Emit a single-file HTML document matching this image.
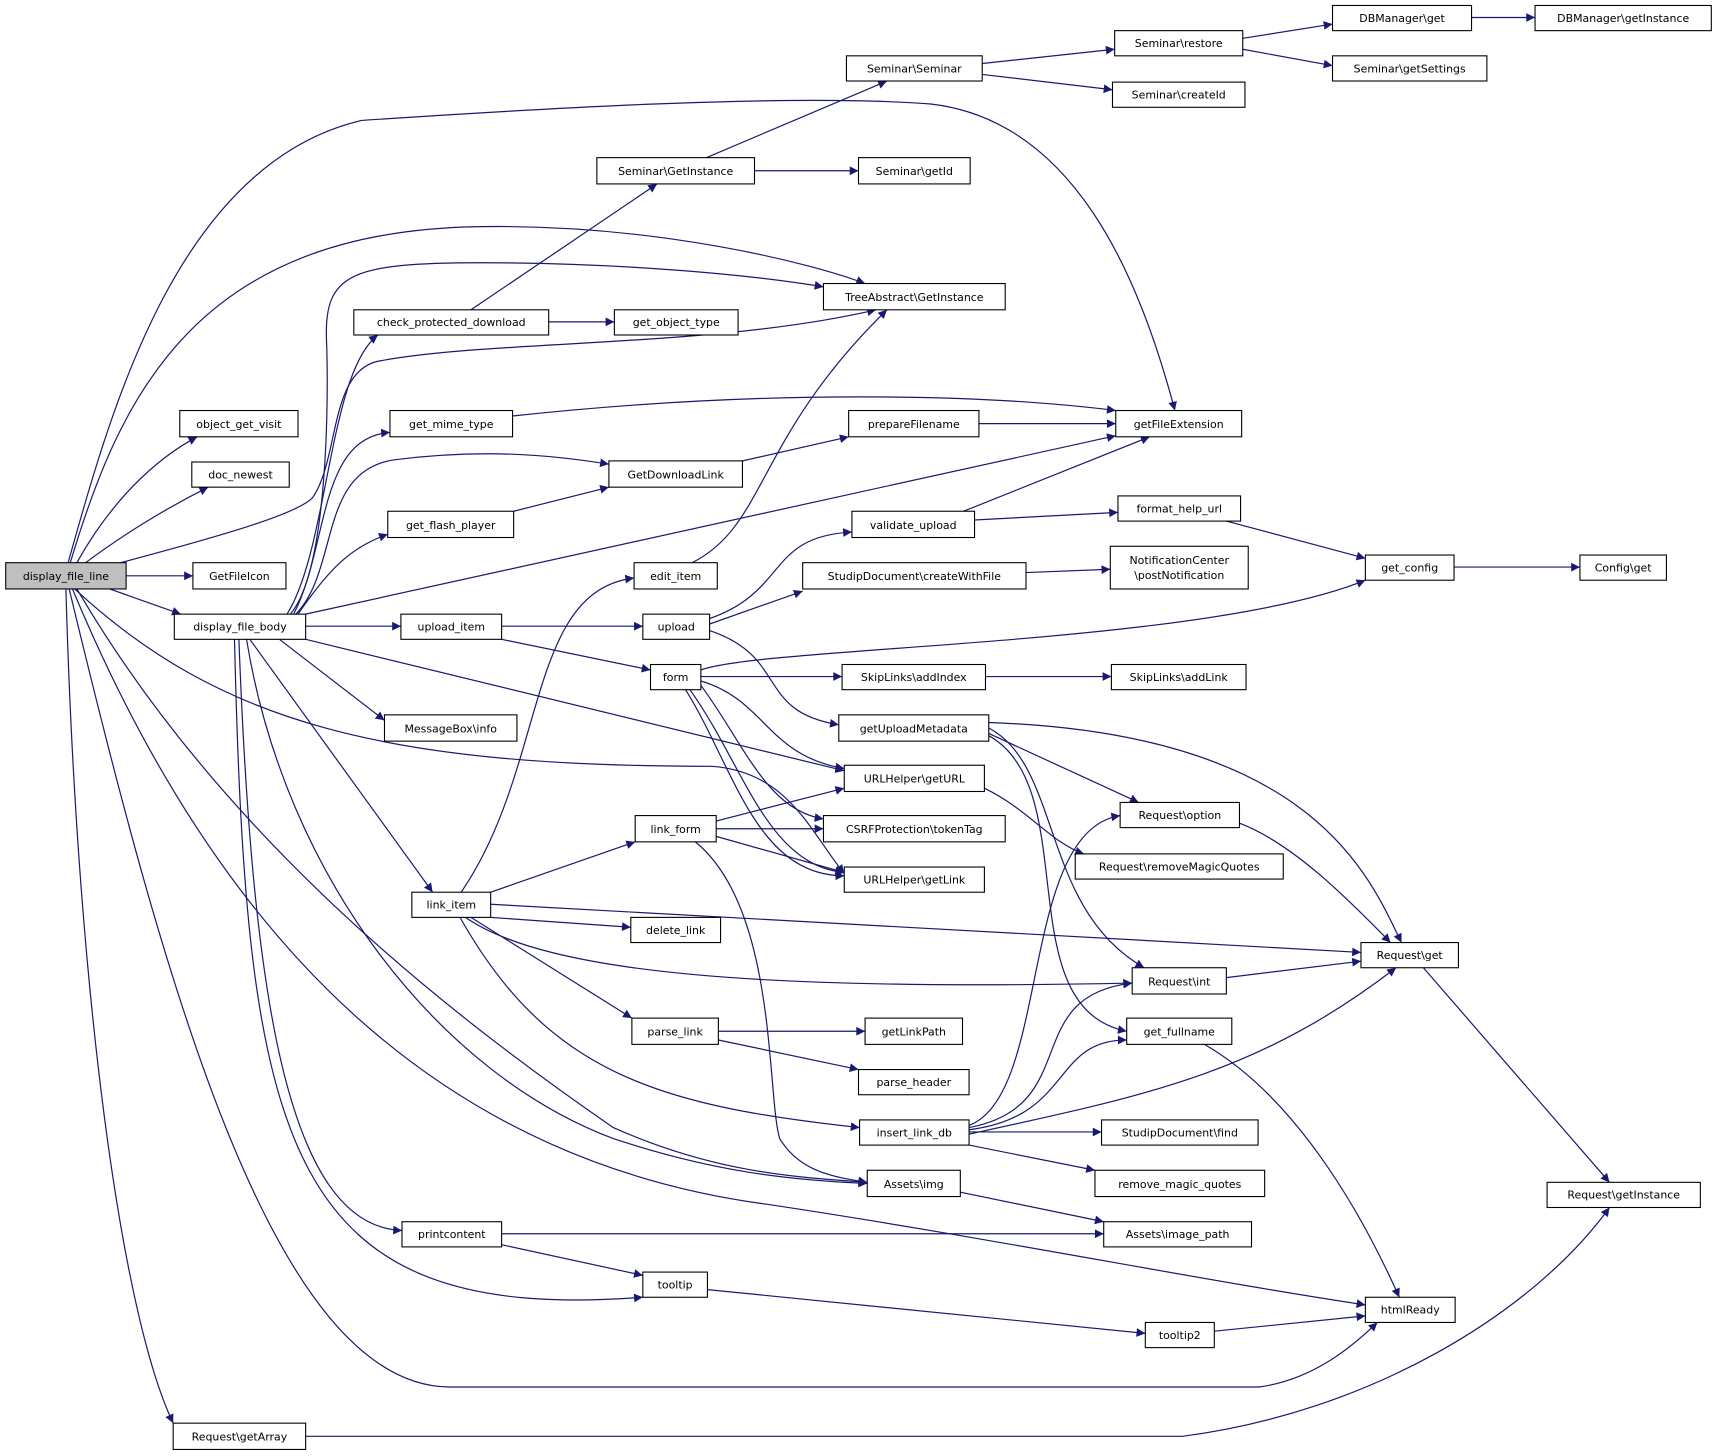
<!DOCTYPE html>
<html><head><meta charset="utf-8"><style>
html,body{margin:0;padding:0;background:#fff;}
svg{display:block;}
text{font-family:"DejaVu Sans","Liberation Sans",sans-serif;font-size:10px;fill:#000;text-anchor:middle;}
.n{fill:#fff;stroke:#000;stroke-width:1;}
.e{fill:none;stroke:#191970;stroke-width:1.1;marker-end:url(#a);}
</style></head><body>
<svg width="1717" height="1456" viewBox="0 0 1568 1330" xmlns="http://www.w3.org/2000/svg">
<defs><marker id="a" viewBox="0 0 10 10" refX="10" refY="5" markerWidth="10" markerHeight="8" markerUnits="userSpaceOnUse" orient="auto"><path d="M0,0L10,5L0,10z" fill="#191970"/></marker></defs>
<g>
<!-- edges -->
<path class="e" d="M62,514 C100,380 160,150 330,110 C480,100 720,85 850,95 C980,110 1040,250 1073,375"/>
<path class="e" d="M64,514 C110,360 180,210 440,207 C600,205 740,240 790,259"/>
<path class="e" d="M70,514 C100,460 140,420 180,399"/>
<path class="e" d="M78,514 C110,490 150,465 190,445"/>
<path class="e" d="M110,514 C200,490 270,470 285,455 C310,420 300,340 345,330 C450,310 650,318 800,283"/>
<path class="e" d="M115,526 L176,526"/>
<path class="e" d="M100,538 L165,561"/>
<path class="e" d="M68,538 C200,660 350,700 650,700 C720,705 740,760 771,798"/>
<path class="e" d="M70,538 C200,760 400,920 560,1030 C650,1070 720,1075 792,1080"/>
<path class="e" d="M66,538 C200,860 400,1060 700,1100 C900,1130 1100,1170 1247,1192"/>
<path class="e" d="M63,538 C150,900 250,1265 410,1267 L1150,1267 C1200,1260 1235,1230 1258,1208"/>
<path class="e" d="M60,538 C70,900 110,1200 158,1300"/>
<path class="e" d="M262,561 C300,500 300,340 345,306"/>
<path class="e" d="M265,561 C300,520 300,360 298,310 C296,250 320,240 440,240 C560,240 680,250 752,262"/>
<path class="e" d="M268,561 C300,500 290,400 356,395"/>
<path class="e" d="M270,561 C310,520 290,430 360,420 C440,410 500,415 556,424"/>
<path class="e" d="M272,561 C300,520 320,500 354,488"/>
<path class="e" d="M279,561 L1019,398"/>
<path class="e" d="M279,572 L366,572"/>
<path class="e" d="M255,584 L351,658"/>
<path class="e" d="M279,584 L771,704"/>
<path class="e" d="M228,584 L395,815"/>
<path class="e" d="M225,584 C260,800 400,980 560,1040 C650,1070 720,1078 792,1081"/>
<path class="e" d="M218,584 C230,900 260,1120 367,1124"/>
<path class="e" d="M214,584 C225,1050 260,1210 587,1185"/>
<path class="e" d="M430,283 L600,168"/>
<path class="e" d="M501,294 L561,294"/>
<path class="e" d="M645,144 L810,74"/>
<path class="e" d="M689,156 L784,156"/>
<path class="e" d="M897,58 L1018,45"/>
<path class="e" d="M897,68 L1016,82"/>
<path class="e" d="M1135,35 L1217,22"/>
<path class="e" d="M1135,45 L1217,60"/>
<path class="e" d="M1344,16 L1402,16"/>
<path class="e" d="M468,380 C700,355 900,360 1019,375"/>
<path class="e" d="M678,421 L775,399"/>
<path class="e" d="M894,387 L1019,387"/>
<path class="e" d="M469,467 L556,445"/>
<path class="e" d="M458,572 L587,572"/>
<path class="e" d="M458,584 L594,612"/>
<path class="e" d="M632,514 C700,480 690,400 810,283"/>
<path class="e" d="M421,815 C500,700 480,540 579,528"/>
<path class="e" d="M448,815 L580,769"/>
<path class="e" d="M448,838 L576,847"/>
<path class="e" d="M430,838 L577,930"/>
<path class="e" d="M448,826 L1243,870"/>
<path class="e" d="M425,838 C500,890 700,905 1034,898"/>
<path class="e" d="M420,838 C500,980 600,1010 785,1030"/>
<path class="e" d="M648,565 C720,540 700,490 778,486"/>
<path class="e" d="M648,570 L733,540"/>
<path class="e" d="M648,576 C720,600 690,650 766,662"/>
<path class="e" d="M880,467 L1050,399"/>
<path class="e" d="M890,475 L1021,468"/>
<path class="e" d="M937,523 L1014,520"/>
<path class="e" d="M1120,476 L1247,510"/>
<path class="e" d="M1328,518 L1443,518"/>
<path class="e" d="M640,612 C700,590 1100,590 1247,530"/>
<path class="e" d="M640,618 L769,618"/>
<path class="e" d="M640,622 C700,640 700,690 771,702"/>
<path class="e" d="M640,626 C680,680 700,740 752,748"/>
<path class="e" d="M630,630 C680,700 700,790 771,797"/>
<path class="e" d="M626,630 C670,700 690,800 771,800"/>
<path class="e" d="M900,618 L1015,618"/>
<path class="e" d="M903,660 C1200,670 1250,800 1280,861"/>
<path class="e" d="M903,670 L1040,733"/>
<path class="e" d="M903,665 C970,700 950,830 1045,884"/>
<path class="e" d="M903,672 C990,720 920,920 1029,942"/>
<path class="e" d="M899,720 C940,740 960,770 990,780"/>
<path class="e" d="M654,750 L771,720"/>
<path class="e" d="M654,757 L752,757"/>
<path class="e" d="M654,764 L771,797"/>
<path class="e" d="M635,769 C710,830 700,1000 712,1040 C730,1070 760,1075 792,1080"/>
<path class="e" d="M656,942 L790,942"/>
<path class="e" d="M656,950 L784,977"/>
<path class="e" d="M885,1028 C960,1000 930,760 1023,745"/>
<path class="e" d="M885,1030 C990,1010 930,910 1034,898"/>
<path class="e" d="M885,1032 C980,1020 960,950 1029,950"/>
<path class="e" d="M885,1036 C1050,1000 1150,980 1275,884"/>
<path class="e" d="M885,1034 L1006,1034"/>
<path class="e" d="M885,1046 L1000,1069"/>
<path class="e" d="M877,1089 L1008,1116"/>
<path class="e" d="M458,1127 L1008,1127"/>
<path class="e" d="M458,1137 L587,1165"/>
<path class="e" d="M646,1178 L1046,1218"/>
<path class="e" d="M1109,1216 L1247,1202"/>
<path class="e" d="M1132,752 C1180,770 1230,820 1270,861"/>
<path class="e" d="M1120,893 L1243,878"/>
<path class="e" d="M1300,884 L1470,1080"/>
<path class="e" d="M1100,954 C1180,1000 1240,1100 1278,1185"/>
<path class="e" d="M279,1312 L1080,1312 C1250,1290 1400,1200 1470,1103"/>
</g>
<g>
<rect class="n" x="5" y="514" width="110" height="24" style="fill:#bfbfbf"/><text x="60" y="530">display_file_line</text>
<rect class="n" x="164" y="375" width="108" height="24"/><text x="218" y="391">object_get_visit</text>
<rect class="n" x="175" y="422" width="89" height="23"/><text x="219.5" y="437">doc_newest</text>
<rect class="n" x="176" y="514" width="85" height="24"/><text x="218.5" y="530">GetFileIcon</text>
<rect class="n" x="159" y="561" width="120" height="23"/><text x="219" y="576">display_file_body</text>
<rect class="n" x="158" y="1300" width="121" height="24"/><text x="218.5" y="1316">Request\getArray</text>
<rect class="n" x="323" y="283" width="178" height="23"/><text x="412" y="298">check_protected_download</text>
<rect class="n" x="356" y="375" width="112" height="24"/><text x="412" y="391">get_mime_type</text>
<rect class="n" x="354" y="467" width="115" height="24"/><text x="411.5" y="483">get_flash_player</text>
<rect class="n" x="366" y="561" width="92" height="23"/><text x="412" y="576">upload_item</text>
<rect class="n" x="351" y="653" width="121" height="24"/><text x="411.5" y="669">MessageBox\info</text>
<rect class="n" x="376" y="815" width="72" height="23"/><text x="412" y="830">link_item</text>
<rect class="n" x="367" y="1116" width="91" height="23"/><text x="412.5" y="1131">printcontent</text>
<rect class="n" x="545" y="144" width="144" height="24"/><text x="617" y="160">Seminar\GetInstance</text>
<rect class="n" x="561" y="283" width="113" height="23"/><text x="617.5" y="298">get_object_type</text>
<rect class="n" x="556" y="421" width="122" height="24"/><text x="617" y="437">GetDownloadLink</text>
<rect class="n" x="579" y="514" width="76" height="24"/><text x="617" y="530">edit_item</text>
<rect class="n" x="587" y="561" width="61" height="23"/><text x="617.5" y="576">upload</text>
<rect class="n" x="594" y="607" width="46" height="23"/><text x="617" y="622">form</text>
<rect class="n" x="580" y="745" width="74" height="24"/><text x="617" y="761">link_form</text>
<rect class="n" x="576" y="838" width="82" height="23"/><text x="617" y="853">delete_link</text>
<rect class="n" x="577" y="930" width="79" height="24"/><text x="616.5" y="946">parse_link</text>
<rect class="n" x="587" y="1162" width="59" height="23"/><text x="616.5" y="1177">tooltip</text>
<rect class="n" x="773" y="51" width="124" height="23"/><text x="835" y="66">Seminar\Seminar</text>
<rect class="n" x="784" y="144" width="102" height="24"/><text x="835" y="160">Seminar\getId</text>
<rect class="n" x="752" y="259" width="166" height="24"/><text x="835" y="275">TreeAbstract\GetInstance</text>
<rect class="n" x="775" y="375" width="119" height="24"/><text x="834.5" y="391">prepareFilename</text>
<rect class="n" x="778" y="467" width="112" height="24"/><text x="834" y="483">validate_upload</text>
<rect class="n" x="733" y="514" width="204" height="24"/><text x="835" y="530">StudipDocument\createWithFile</text>
<rect class="n" x="769" y="607" width="131" height="23"/><text x="834.5" y="622">SkipLinks\addIndex</text>
<rect class="n" x="766" y="653" width="137" height="24"/><text x="834.5" y="669">getUploadMetadata</text>
<rect class="n" x="771" y="699" width="128" height="24"/><text x="835" y="715">URLHelper\getURL</text>
<rect class="n" x="752" y="745" width="166" height="24"/><text x="835" y="761">CSRFProtection\tokenTag</text>
<rect class="n" x="771" y="792" width="128" height="23"/><text x="835" y="807">URLHelper\getLink</text>
<rect class="n" x="790" y="930" width="89" height="24"/><text x="834.5" y="946">getLinkPath</text>
<rect class="n" x="784" y="977" width="101" height="23"/><text x="834.5" y="992">parse_header</text>
<rect class="n" x="785" y="1023" width="100" height="23"/><text x="835" y="1038">insert_link_db</text>
<rect class="n" x="792" y="1069" width="85" height="24"/><text x="834.5" y="1085">Assets\img</text>
<rect class="n" x="1046" y="1208" width="63" height="23"/><text x="1077.5" y="1223">tooltip2</text>
<rect class="n" x="1018" y="28" width="117" height="23"/><text x="1076.5" y="43">Seminar\restore</text>
<rect class="n" x="1016" y="75" width="121" height="23"/><text x="1076.5" y="90">Seminar\createId</text>
<rect class="n" x="1019" y="375" width="115" height="24"/><text x="1076.5" y="391">getFileExtension</text>
<rect class="n" x="1021" y="453" width="112" height="23"/><text x="1077" y="468">format_help_url</text>
<rect class="n" x="1014" y="499" width="126" height="39"/><text x="1077" y="515">NotificationCenter</text><text x="1077" y="529">\postNotification</text>
<rect class="n" x="1015" y="607" width="123" height="23"/><text x="1076.5" y="622">SkipLinks\addLink</text>
<rect class="n" x="1023" y="733" width="109" height="23"/><text x="1077.5" y="748">Request\option</text>
<rect class="n" x="982" y="780" width="190" height="23"/><text x="1077" y="795">Request\removeMagicQuotes</text>
<rect class="n" x="1034" y="884" width="86" height="24"/><text x="1077" y="900">Request\int</text>
<rect class="n" x="1029" y="930" width="96" height="24"/><text x="1077" y="946">get_fullname</text>
<rect class="n" x="1006" y="1023" width="143" height="23"/><text x="1077.5" y="1038">StudipDocument\find</text>
<rect class="n" x="1000" y="1069" width="155" height="24"/><text x="1077.5" y="1085">remove_magic_quotes</text>
<rect class="n" x="1008" y="1116" width="135" height="23"/><text x="1075.5" y="1131">Assets\image_path</text>
<rect class="n" x="1217" y="5" width="127" height="23"/><text x="1280.5" y="20">DBManager\get</text>
<rect class="n" x="1217" y="51" width="141" height="23"/><text x="1287.5" y="66">Seminar\getSettings</text>
<rect class="n" x="1247" y="507" width="81" height="23"/><text x="1287.5" y="522">get_config</text>
<rect class="n" x="1243" y="861" width="89" height="23"/><text x="1287.5" y="876">Request\get</text>
<rect class="n" x="1247" y="1185" width="82" height="23"/><text x="1288" y="1200">htmlReady</text>
<rect class="n" x="1402" y="5" width="161" height="23"/><text x="1482.5" y="20">DBManager\getInstance</text>
<rect class="n" x="1443" y="507" width="79" height="23"/><text x="1482.5" y="522">Config\get</text>
<rect class="n" x="1413" y="1080" width="140" height="23"/><text x="1483" y="1095">Request\getInstance</text>
</g>
</svg>
</body></html>
